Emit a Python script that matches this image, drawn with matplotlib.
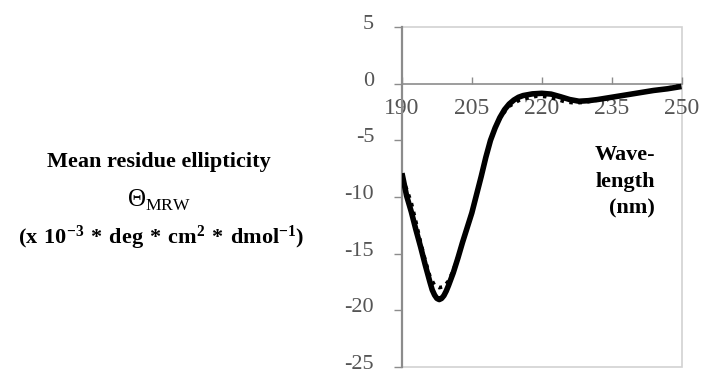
import matplotlib
matplotlib.use("Agg")
import matplotlib.pyplot as plt
import matplotlib.transforms as mtransforms
from matplotlib.patches import Rectangle

plt.rcParams['mathtext.fontset'] = 'custom'
plt.rcParams['mathtext.rm'] = 'Liberation Serif'
plt.rcParams['mathtext.bf'] = 'Liberation Serif:bold'

# solid curve
waveSolid = [190, 191, 192, 193, 194, 195, 196, 196.5, 197, 197.5, 198, 198.5, 199, 199.5, 200,
             201, 202, 203, 204, 205, 206, 207, 208, 209, 210, 211, 212, 213, 214, 215, 216,
             218, 220, 222, 224, 226, 228, 230, 232, 235, 238, 241, 244, 247, 250]
thetaSolid = [-7.9, -9.9, -11.3, -12.9, -14.4, -16.0, -17.5, -18.2, -18.65, -18.95, -19.05,
              -18.95, -18.7, -18.3, -17.8, -16.7, -15.4, -14.0, -12.7, -11.4, -9.8, -8.2, -6.5,
              -5.0, -3.9, -3.0, -2.3, -1.8, -1.45, -1.2, -1.05, -0.9, -0.85, -0.92, -1.15, -1.4,
              -1.55, -1.5, -1.4, -1.2, -1.0, -0.8, -0.6, -0.45, -0.25]

# dotted curve
waveDotted = [190, 191, 192, 193, 194, 195, 196, 197, 198, 199, 200, 201, 202, 203, 204, 205,
              206, 207, 208, 209, 210, 211, 212, 213, 215, 217, 219, 221, 223, 225, 227, 229,
              232, 235, 238, 241, 244, 247, 250]
thetaDotted = [-8.3, -9.3, -10.5, -12.2, -14.0, -15.6, -17.0, -17.8, -18.0, -17.9, -17.4, -16.5,
               -15.3, -14.0, -12.7, -11.4, -9.8, -8.2, -6.5, -5.0, -3.9, -3.1, -2.5, -2.0, -1.5,
               -1.25, -1.1, -1.15, -1.35, -1.6, -1.7, -1.65, -1.45, -1.25, -1.0, -0.8, -0.6,
               -0.4, -0.15]

xTicks = [190, 205, 220, 235, 250]
yTicks = [5, 0, -5, -10, -15, -20, -25]

fig = plt.figure(figsize=(7.02, 3.75), dpi=100)
ax = fig.add_axes([0.5726, 0.0213, 0.3982, 0.9067])

ax.plot(waveSolid, thetaSolid, color='black', linewidth=4.0, solid_capstyle='butt',
        solid_joinstyle='round', zorder=3)
ax.plot(waveDotted, thetaDotted, color='black', linewidth=2.6, linestyle=(0, (1.0, 1.5)), zorder=4)

ax.set_xlim(190, 250)
ax.set_ylim(-25, 5)

# axes look like an old spreadsheet chart
for side in ['top', 'right']:
    ax.spines[side].set_visible(False)
ax.spines['bottom'].set_position(('data', 0))
ax.spines['bottom'].set_color('#8c8c8c')
ax.spines['bottom'].set_linewidth(1.2)
ax.spines['left'].set_color('#8c8c8c')
ax.spines['left'].set_linewidth(1.6)
ax.add_patch(Rectangle((0, 0), 1, 1, transform=ax.transAxes, fill=False,
                       edgecolor='#d2d2d2', linewidth=1.2, clip_on=False, zorder=1))

ax.set_xticks(xTicks)
ax.set_yticks(yTicks)
ax.set_yticklabels([str(v) for v in yTicks])
ax.tick_params(axis='x', direction='in', length=5, width=1, color='#8c8c8c', pad=10,
               labelsize=17, labelcolor='#555555')
ax.tick_params(axis='y', direction='out', length=6, width=1, color='#8c8c8c', pad=14,
               labelsize=16, labelcolor='#555555')
for lab in ax.get_xticklabels() + ax.get_yticklabels():
    lab.set_fontfamily('Liberation Serif')
# y labels sit a little higher than their ticks in the original
shiftUp = mtransforms.ScaledTranslation(0, 5 / 100, fig.dpi_scale_trans)
for lab in ax.get_yticklabels():
    lab.set_transform(lab.get_transform() + shiftUp)

# labels
fig.text(655 / 702, 1 - 182 / 375, 'Wave-\nlength\n(nm)', ha='right', va='center',
         fontsize=16, fontweight='bold', family='Liberation Serif', linespacing=1.45,
         multialignment='right')
fig.text(159 / 702, 1 - 162 / 375, 'Mean residue ellipticity', ha='center', va='center',
         fontsize=16, fontweight='bold', family='Liberation Serif')
fig.text(159 / 702, 1 - 200 / 375, r'$\Theta_{\mathrm{MRW}}$', ha='center', va='center',
         fontsize=18)
fig.text(161 / 702, 1 - 238 / 375,
         r'$\mathbf{(x\ 10^{-3}\ {*}\ deg\ {*}\ cm^{2}\ {*}\ dmol^{-1})}$',
         ha='center', va='center', fontsize=16)

plt.savefig('out.png', dpi=100)
